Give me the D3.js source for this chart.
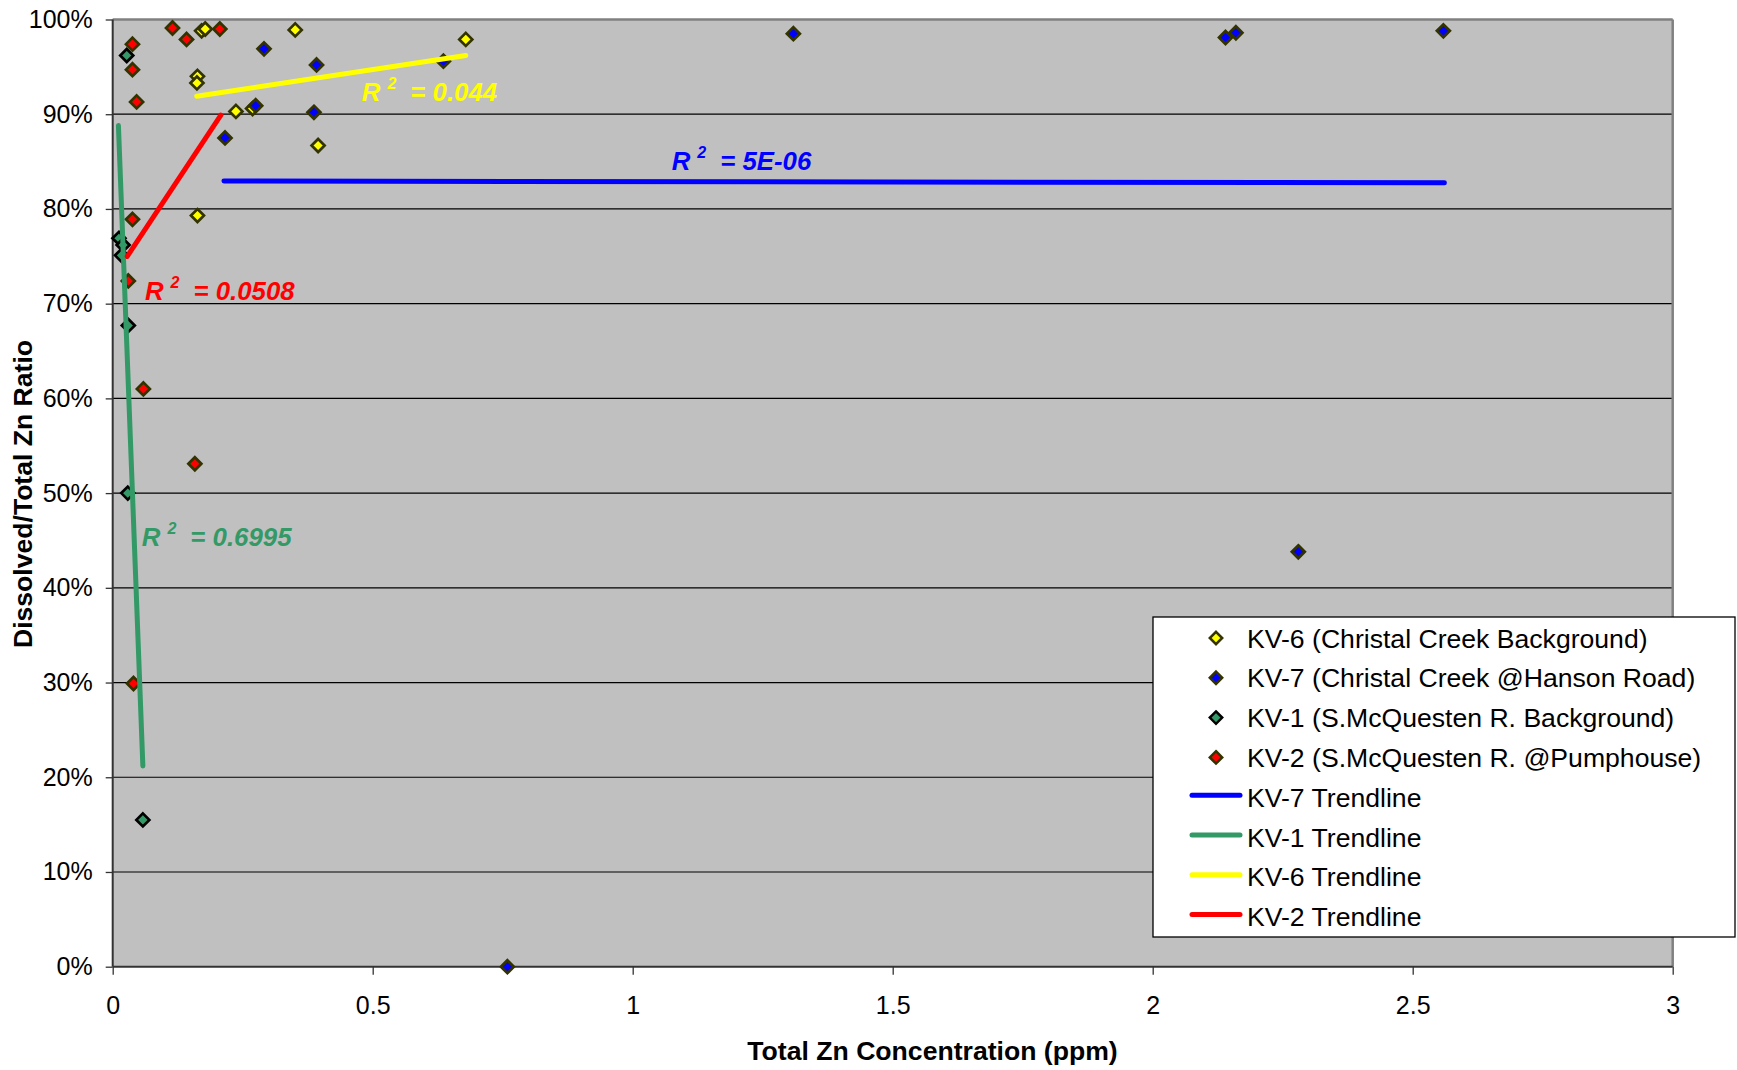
<!DOCTYPE html>
<html><head><meta charset="utf-8">
<script src="https://cdn.jsdelivr.net/npm/d3@7"></script>
<style>body{margin:0;background:#fff}svg{display:block}</style>
</head><body>
<svg id="c" width="1737" height="1070"></svg>
<script>
// ---- data ----
const kv6 = [[0.171,98.8],[0.178,99.0],[0.351,98.9],[0.163,94.0],[0.162,93.3],[0.237,90.3],[0.269,90.6],[0.395,86.7],[0.163,79.3],[0.679,97.9]];
const kv7 = [[0.291,96.9],[0.392,95.2],[0.275,90.9],[0.387,90.2],[0.216,87.5],[0.636,95.6],[1.309,98.5],[0.759,0.0],[2.140,98.1],[2.160,98.6],[2.559,98.8],[2.280,43.8]];
const kv1 = [[0.027,96.2],[0.012,76.9],[0.020,76.2],[0.017,75.1],[0.030,67.7],[0.029,50.0],[0.058,15.5]];
const kv2 = [[0.115,99.1],[0.142,97.9],[0.206,99.0],[0.038,97.4],[0.038,94.7],[0.046,91.3],[0.038,78.9],[0.030,72.4],[0.059,61.0],[0.158,53.1],[0.040,29.9]];
const trendKV7 = [[0.214,82.95],[2.561,82.76]];
const trendKV1 = [[0.011,88.8],[0.058,21.2]];
const trendKV6 = [[0.1615,91.9],[0.679,96.2]];
const trendKV2 = [[0.028,75.0],[0.208,89.9]];
const r2Labels = [
  {val:"0.044", x:0.479, y:91.4, color:"#FFFF00"},
  {val:"5E-06", x:1.075, y:84.1, color:"#0000FF"},
  {val:"0.0508", x:0.062, y:70.4, color:"#FF0000"},
  {val:"0.6995", x:0.056, y:44.4, color:"#339966"}
];
const xTicks = [0,0.5,1,1.5,2,2.5,3];
const yTicks = [0,10,20,30,40,50,60,70,80,90,100];
const seriesNames = ["KV-6 (Christal Creek Background)","KV-7 (Christal Creek @Hanson Road)","KV-1 (S.McQuesten R. Background)","KV-2 (S.McQuesten R. @Pumphouse)"];
const trendNames = ["KV-7 Trendline","KV-1 Trendline","KV-6 Trendline","KV-2 Trendline"];

// ---- layout ----
const svg = d3.select("#c");
const L=112.7, R=1672.7, T=19.5, B=966.7;
const x = d3.scaleLinear().domain([0,3]).range([L,R]);
const y = d3.scaleLinear().domain([0,100]).range([B,T]);
const font = "Arial, 'Liberation Sans', sans-serif";

svg.append("rect").attr("x",L).attr("y",T).attr("width",R-L).attr("height",B-T).attr("fill","#C0C0C0");
// gridlines
svg.append("g").selectAll("line").data(yTicks.filter(d=>d>0&&d<100)).join("line")
  .attr("x1",L).attr("x2",R).attr("y1",d=>y(d)).attr("y2",d=>y(d))
  .attr("stroke","#000").attr("stroke-width",1.2);
// border
svg.append("line").attr("x1",L).attr("x2",R).attr("y1",T).attr("y2",T).attr("stroke","#808080").attr("stroke-width",2.5);
svg.append("line").attr("x1",R).attr("x2",R).attr("y1",T).attr("y2",B).attr("stroke","#808080").attr("stroke-width",2.5);

// axes
const yAxis = d3.axisLeft(y).tickValues(yTicks).tickFormat(d=>d+"%").tickSize(7).tickPadding(13);
const gy = svg.append("g").attr("transform",`translate(${L},0)`).call(yAxis);
const xAxis = d3.axisBottom(x).tickValues(xTicks).tickFormat(d3.format("")).tickSize(8).tickPadding(22);
const gx = svg.append("g").attr("transform",`translate(0,${B})`).call(xAxis);
[gx,gy].forEach(g=>{
  g.select(".domain").attr("stroke","#333").attr("stroke-width",2);
  g.selectAll(".tick line").attr("stroke","#333").attr("stroke-width",1.3);
  g.selectAll("text").attr("font-family",font).attr("font-size",25).attr("fill","#000");
});
gy.select(".domain").attr("d",`M0,${B}V${T}`);
gx.select(".domain").attr("d",`M${L},0H${R}`);

// axis titles
svg.append("text").attr("x",932.5).attr("y",1060).attr("text-anchor","middle")
  .attr("font-family",font).attr("font-weight","bold").attr("font-size",26.6).text("Total Zn Concentration (ppm)");
svg.append("text").attr("transform","translate(32,494) rotate(-90)").attr("text-anchor","middle")
  .attr("font-family","'Liberation Sans Narrow', 'Arial Narrow', Arial, sans-serif").attr("font-weight","bold").attr("font-size",26)
  .attr("textLength",308).attr("lengthAdjust","spacingAndGlyphs").text("Dissolved/Total Zn Ratio");

// markers
const diamond = s => `M0,${-s}L${s},0L0,${s}L${-s},0Z`;
const series = [
  {data:kv6, fill:"#FFFF00", stroke:"#333300"},
  {data:kv7, fill:"#0000FF", stroke:"#333300"},
  {data:kv1, fill:"#339966", stroke:"#000000"},
  {data:kv2, fill:"#FF0000", stroke:"#333300"}
];
series.forEach(s=>{
  svg.append("g").selectAll("path").data(s.data).join("path")
    .attr("transform",d=>`translate(${x(d[0])},${y(d[1])})`)
    .attr("d",diamond(6.5)).attr("fill",s.fill).attr("stroke",s.stroke).attr("stroke-width",2.7);
});

// trendlines
const trends = [
  {data:trendKV7, color:"#0000FF"},
  {data:trendKV1, color:"#339966"},
  {data:trendKV6, color:"#FFFF00"},
  {data:trendKV2, color:"#FF0000"}
];
const line = d3.line().x(d=>x(d[0])).y(d=>y(d[1]));
trends.forEach(t=>{
  svg.append("path").attr("d",line(t.data)).attr("fill","none").attr("stroke",t.color)
    .attr("stroke-width",5).attr("stroke-linecap","round");
});

// R2 labels
r2Labels.forEach(l=>{
  const t = svg.append("text").attr("x",x(l.x)).attr("y",y(l.y)).attr("fill",l.color)
    .attr("font-family",font).attr("font-weight","bold").attr("font-style","italic").attr("font-size",25.8);
  t.append("tspan").text("R");
  t.append("tspan").attr("dx",7).attr("dy",-12).attr("font-size",16).text("2");
  t.append("tspan").attr("dx",14).attr("dy",12).text("= "+l.val);
});

// legend
const lg = svg.append("g");
lg.append("rect").attr("x",1153).attr("y",617).attr("width",582).attr("height",320)
  .attr("fill","#fff").attr("stroke","#000").attr("stroke-width",1.3);
const rowY = i => 638 + i*39.8;
series.forEach((s,i)=>{
  lg.append("path").attr("transform",`translate(1216,${rowY(i)})`).attr("d",diamond(6.2))
    .attr("fill",s.fill).attr("stroke",s.stroke).attr("stroke-width",2.5);
  lg.append("text").attr("x",1247).attr("y",rowY(i)+9.5).attr("font-family",font).attr("font-size",26.6)
    .text(seriesNames[i]);
});
trends.forEach((t,j)=>{
  const i = j+4;
  lg.append("line").attr("x1",1192).attr("x2",1240).attr("y1",rowY(i)-2).attr("y2",rowY(i)-2)
    .attr("stroke",t.color).attr("stroke-width",5).attr("stroke-linecap","round");
  lg.append("text").attr("x",1247).attr("y",rowY(i)+9.5).attr("font-family",font).attr("font-size",26.6)
    .text(trendNames[j]);
});
</script>
</body></html>
